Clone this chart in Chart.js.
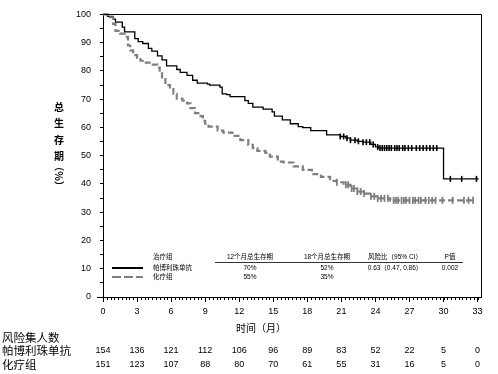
<!DOCTYPE html>
<html>
<head>
<meta charset="utf-8">
<script src="https://cdn.jsdelivr.net/npm/chart.js@4.4.1/dist/chart.umd.min.js"></script>
<style>
  html, body { margin: 0; padding: 0; background: #fff; }
  #wrap { width: 498px; height: 374px; }
</style>
</head>
<body>
<div id="wrap"><canvas id="c" width="498" height="374"></canvas></div>
<script>
const months = [0, 3, 6, 9, 12, 15, 18, 21, 24, 27, 30, 33];
const atRiskPembro = [154, 136, 121, 112, 106, 96, 89, 83, 52, 22, 5, 0];
const atRiskChemo = [151, 123, 107, 88, 80, 70, 61, 55, 31, 16, 5, 0];

// KM steps: time (months) -> survival (%) after the drop
const pembroTime = [0, 0.4, 0.9, 1.1, 1.7, 1.9, 2.8, 3.1, 3.5, 4.0, 4.3, 4.8, 5.2, 5.6, 6.5, 6.8, 7.4, 7.9, 8.3, 9.2, 9.4, 10.3, 10.5, 10.9, 11.2, 12.5, 12.8, 13.2, 14.1, 14.9, 15.1, 15.8, 16.5, 17.2, 17.6, 18.3, 19.7, 20.9, 21.4, 21.8, 22.4, 22.9, 23.6, 24.0, 24.3, 30.0, 33.1];
const pembroSurv = [100, 99.3, 98.3, 97.3, 95.5, 93.8, 91.4, 90.4, 89.7, 88, 87, 85.3, 83.9, 81.8, 80.5, 79.5, 78.4, 76.7, 75.7, 75.3, 75, 74.3, 71.9, 71.6, 70.9, 69.5, 68.5, 67.2, 66.5, 65.5, 64, 62.7, 61.3, 60.3, 59.9, 58.9, 57.4, 56.8, 56.2, 55.5, 55.1, 54.8, 54.0, 53.1, 52.7, 41.8, 41.8];
const chemoTime = [0, 0.6, 0.9, 1.1, 1.5, 1.9, 2.2, 2.4, 2.65, 3.0, 3.3, 3.5, 4.1, 4.8, 5.0, 5.2, 5.5, 5.9, 6.2, 6.5, 7.0, 7.4, 7.7, 8.1, 8.6, 8.8, 9.0, 9.3, 10.1, 10.6, 11.4, 12.1, 12.8, 13.2, 13.6, 14.3, 14.7, 15.4, 15.9, 16.8, 17.6, 18.4, 19.2, 20.0, 20.6, 21.2, 21.8, 22.4, 22.9, 23.5, 24.2, 25.3, 32.7];
const chemoSurv = [100, 99, 96.6, 94.2, 93.2, 92.1, 89, 87.3, 85.6, 84.6, 83.6, 82.9, 82.2, 81.2, 80.1, 77.7, 75, 73.6, 71.9, 70.2, 69.5, 68.5, 66.8, 65.1, 64, 62.3, 61.3, 60.3, 58.9, 58.2, 57, 55.5, 53.8, 52.7, 51.7, 51, 49.7, 47.9, 47.6, 46.2, 45, 43.5, 42.5, 41.1, 40.6, 39.7, 38.4, 37.3, 36.6, 35.6, 34.9, 34.2, 34.2];

// censoring times (months)
const pembroCensor = [20.9, 21.2, 21.5, 21.8, 22.2, 22.5, 22.9, 23.2, 23.5, 23.8, 24.2, 24.4, 24.6, 24.8, 25.0, 25.2, 25.4, 25.7, 25.9, 26.1, 26.4, 26.6, 26.9, 27.2, 27.6, 27.9, 28.2, 28.5, 28.8, 29.1, 29.4, 30.6, 31.6, 32.9];
const chemoCensor = [20.6, 21.4, 21.6, 21.9, 22.1, 22.4, 22.7, 23.0, 23.6, 23.9, 24.2, 24.5, 24.8, 25.1, 25.6, 25.8, 26.0, 26.3, 26.5, 26.7, 27.0, 27.3, 27.5, 27.8, 28.0, 28.4, 28.7, 29.0, 29.3, 29.9, 30.8, 31.8, 32.2, 32.6];

const groups = ['帕博利珠单抗', '化疗组'];
const os12 = ['70%', '55%'];
const os18 = ['52%', '35%'];
const hr = '0.63（0.47, 0.86）';
const pValue = '0.002';

const FONT = '"Liberation Sans", "Noto Sans CJK SC", sans-serif';
const GRAY = '#7f7f7f';

function survAt(times, surv, t) {
  let s = surv[0];
  for (let i = 0; i < times.length; i++) {
    if (times[i] <= t) s = surv[i];
  }
  return s;
}
const pts = (xs, ys) => xs.map((x, i) => ({ x: x, y: ys[i] }));
const censorPts = (cs, times, surv) => cs.map(t => ({ x: t, y: survAt(times, surv, t) }));

const extras = {
  id: 'extras',
  afterDraw(chart) {
    const ctx = chart.ctx;
    const a = chart.chartArea;
    const xs = chart.scales.x;
    ctx.save();
    ctx.strokeStyle = '#000';
    ctx.lineWidth = 1;
    // box top/right
    ctx.beginPath();
    ctx.moveTo(Math.round(a.left) + 0.5, Math.round(a.top) + 0.5);
    ctx.lineTo(Math.round(a.right) + 0.5, Math.round(a.top) + 0.5);
    ctx.lineTo(Math.round(a.right) + 0.5, Math.round(a.bottom) + 0.5);
    ctx.stroke();
    // x axis stub to the left + minor ticks
    ctx.beginPath();
    ctx.moveTo(a.left - 6, Math.round(a.bottom) + 0.5);
    ctx.lineTo(a.left, Math.round(a.bottom) + 0.5);
    for (let m = 0; m <= 33.01; m += 1 / 3) {
      const px = Math.round(xs.getPixelForValue(m)) + 0.5;
      ctx.moveTo(px, a.bottom);
      ctx.lineTo(px, a.bottom + 3);
    }
    ctx.stroke();

    ctx.fillStyle = '#000';
    // y title
    ctx.font = 'bold 10px "Noto Sans CJK SC", sans-serif';
    ctx.textAlign = 'center';
    ctx.textBaseline = 'middle';
    const yx = 59;
    ['总', '生', '存', '期'].forEach((ch, i) => ctx.fillText(ch, yx, 107 + i * 16.5));
    ctx.save();
    ctx.translate(yx, 176);
    ctx.rotate(Math.PI / 2);
    ctx.fillText('（%）', 0, 0);
    ctx.restore();

    // x title
    ctx.font = '10px "Noto Sans CJK SC", sans-serif';
    ctx.fillText('时间（月）', 261, 328);

    // at-risk table
    ctx.textAlign = 'left';
    ctx.font = '11.5px "Noto Sans CJK SC", sans-serif';
    ctx.fillText('风险集人数', 2, 338);
    ctx.fillText(groups[0], 2, 351);
    ctx.fillText(groups[1], 2, 365);
    ctx.textAlign = 'center';
    ctx.font = '9px ' + FONT;
    months.forEach((m, i) => {
      const px = xs.getPixelForValue(m);
      ctx.fillText(String(atRiskPembro[i]), px, 351);
      ctx.fillText(String(atRiskChemo[i]), px, 365);
    });

    // legend table
    const f = '6.5px ' + FONT;
    ctx.font = f;
    const rows = [257, 268, 277];
    ctx.textAlign = 'left';
    ctx.fillText('治疗组', 153, rows[0]);
    ctx.fillText(groups[0], 153, rows[1]);
    ctx.fillText(groups[1], 153, rows[2]);
    ctx.textAlign = 'center';
    ctx.fillText('12个月总生存期', 250, rows[0]);
    ctx.fillText('18个月总生存期', 327, rows[0]);
    ctx.fillText('风险比（95% CI）', 395, rows[0]);
    ctx.fillText('P值', 450, rows[0]);
    ctx.fillText(os12[0], 250, rows[1]);
    ctx.fillText(os18[0], 327, rows[1]);
    ctx.fillText(hr, 395, rows[1]);
    ctx.fillText(pValue, 450, rows[1]);
    ctx.fillText(os12[1], 250, rows[2]);
    ctx.fillText(os18[1], 327, rows[2]);
    ctx.beginPath();
    ctx.lineWidth = 0.8;
    ctx.moveTo(215, 262.5);
    ctx.lineTo(463, 262.5);
    ctx.stroke();
    // legend samples
    ctx.beginPath();
    ctx.lineWidth = 2;
    ctx.moveTo(112, 268);
    ctx.lineTo(143, 268);
    ctx.stroke();
    ctx.beginPath();
    ctx.strokeStyle = GRAY;
    ctx.setLineDash([9, 3]);
    ctx.moveTo(112, 277);
    ctx.lineTo(143, 277);
    ctx.stroke();
    ctx.restore();
  }
};

new Chart(document.getElementById('c'), {
  type: 'line',
  data: {
    datasets: [
      {
        data: pts(chemoTime, chemoSurv),
        stepped: true,
        borderColor: GRAY,
        borderWidth: 2.2,
        borderDash: [6, 3],
        pointRadius: 0,
        fill: false,
        clip: false
      },
      {
        data: censorPts(chemoCensor, chemoTime, chemoSurv),
        showLine: false,
        pointStyle: 'line',
        rotation: 90,
        pointRadius: 3.5,
        borderColor: GRAY,
        borderWidth: 1.8,
        clip: false
      },
      {
        data: pts(pembroTime, pembroSurv),
        stepped: true,
        borderColor: '#000',
        borderWidth: 1.3,
        pointRadius: 0,
        fill: false,
        clip: false
      },
      {
        data: censorPts(pembroCensor, pembroTime, pembroSurv),
        showLine: false,
        pointStyle: 'line',
        rotation: 90,
        pointRadius: 3,
        borderColor: '#000',
        borderWidth: 1.6,
        clip: false
      }
    ]
  },
  options: {
    responsive: false,
    animation: false,
    events: [],
    layout: { padding: { top: 5, right: 17, left: 0, bottom: 0 } },
    plugins: { legend: { display: false }, tooltip: { enabled: false } },
    scales: {
      x: {
        type: 'linear',
        min: 0,
        max: 33.3,
        afterBuildTicks: s => { s.ticks = months.map(v => ({ value: v })); },
        afterFit: s => { s.height = 77; },
        grid: { drawOnChartArea: false, tickLength: 5, color: '#000', lineWidth: 1 },
        border: { color: '#000', width: 1 },
        ticks: { color: '#000', font: { family: FONT, size: 9 }, padding: 4, maxRotation: 0, autoSkip: false }
      },
      y: {
        min: 0,
        max: 100,
        afterFit: s => { s.width = 103; },
        grid: { drawOnChartArea: false, tickLength: 3, color: '#000', lineWidth: 1 },
        border: { color: '#000', width: 1 },
        ticks: {
          stepSize: 5,
          color: '#000',
          font: { family: FONT, size: 9 },
          padding: 9,
          callback: v => (v % 10 === 0 ? v : '')
        }
      }
    }
  },
  plugins: [extras]
});
</script>
</body>
</html>
